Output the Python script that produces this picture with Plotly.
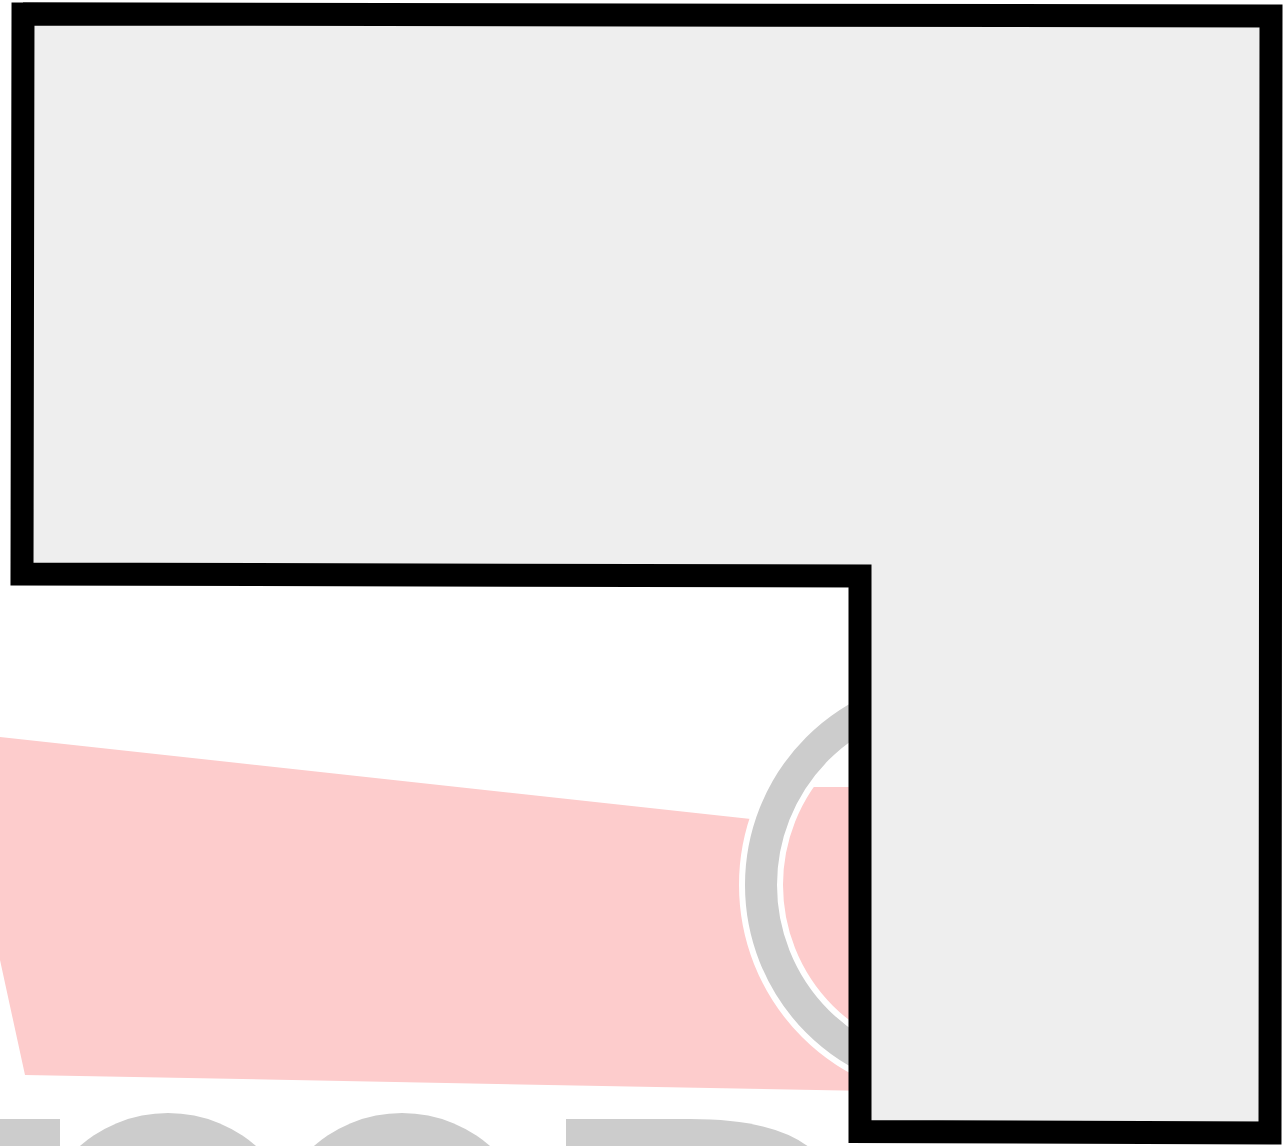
import plotly.graph_objects as go

# L-shaped outline (pixel-space coordinates, y downward)
outline_x = [23, 1271, 1270, 860, 860, 22]
outline_y = [14, 16, 1133, 1131.5, 576, 574]

# faded background artwork
band_x = [0, 760, 795, 870, 870, 25, 0]
band_y = [737, 820, 787, 787, 1091, 1075, 960]
ring_center = (954, 885)
ring_radius = 193
letter_o_centers = [168, 402]
letter_o_top = 1113
letter_o_radius = 134

W, H = 1285, 1146

fig = go.Figure()

shapes = []
# pink band
band_path = "M " + " L ".join(f"{x},{y}" for x, y in zip(band_x, band_y)) + " Z"
shapes.append(dict(type="path", path=band_path, fillcolor="#fdcccc",
                   line=dict(width=0), layer="below", xref="x", yref="y"))
cx, cy = ring_center
# white halo then grey ring
shapes.append(dict(type="circle", x0=cx - ring_radius, x1=cx + ring_radius,
                   y0=cy - ring_radius, y1=cy + ring_radius,
                   line=dict(color="#ffffff", width=44), layer="below", xref="x", yref="y"))
shapes.append(dict(type="circle", x0=cx - ring_radius, x1=cx + ring_radius,
                   y0=cy - ring_radius, y1=cy + ring_radius,
                   line=dict(color="#cccccc", width=32), layer="below", xref="x", yref="y"))
# letter fragments at bottom
shapes.append(dict(type="rect", x0=0, x1=60, y0=1119, y1=1160, fillcolor="#cccccc",
                   line=dict(width=0), layer="below", xref="x", yref="y"))
for ox in letter_o_centers:
    shapes.append(dict(type="circle", x0=ox - letter_o_radius, x1=ox + letter_o_radius,
                       y0=letter_o_top, y1=letter_o_top + 2 * letter_o_radius,
                       fillcolor="#cccccc", line=dict(width=0), layer="below",
                       xref="x", yref="y"))
shapes.append(dict(type="path", path="M 566,1160 L 566,1119 L 690,1119 Q 790,1119 822,1160 Z",
                   fillcolor="#cccccc", line=dict(width=0), layer="below", xref="x", yref="y"))

px = outline_x + outline_x[:2]
py = outline_y + outline_y[:2]
fig.add_trace(go.Scatter(x=px, y=py, mode="lines", fill="toself",
                         fillcolor="#eeeeee", line=dict(color="#000000", width=23),
                         hoverinfo="skip", showlegend=False))

fig.update_layout(
    width=W, height=H, margin=dict(l=0, r=0, t=0, b=0),
    paper_bgcolor="#ffffff", plot_bgcolor="#ffffff",
    shapes=shapes, showlegend=False,
    xaxis=dict(range=[0, W], visible=False, fixedrange=True),
    yaxis=dict(range=[H, 0], visible=False, fixedrange=True),
)

fig.write_html("out.html", config={"displayModeBar": False, "staticPlot": True},
               post_script="document.body.style.margin='0';document.body.style.overflow='hidden';")
